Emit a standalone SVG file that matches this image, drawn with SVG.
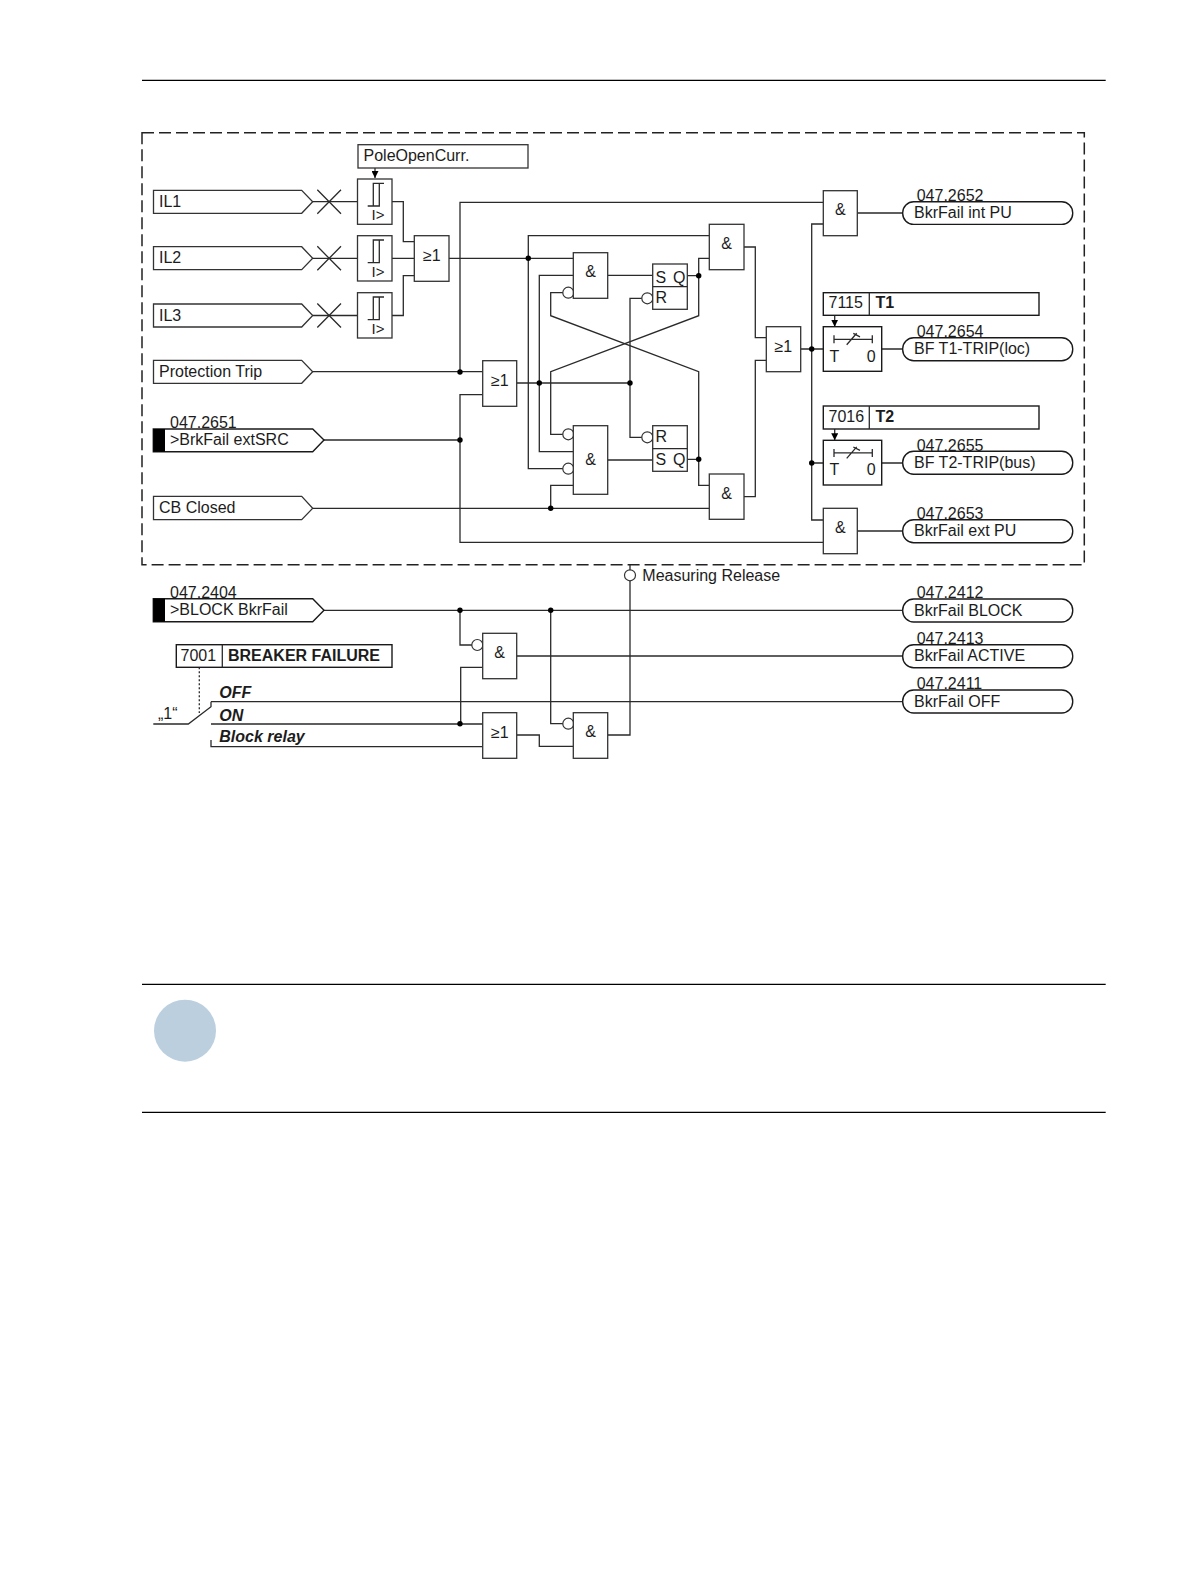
<svg xmlns="http://www.w3.org/2000/svg" width="1191" height="1587" viewBox="0 0 1191 1587">
<defs>
<style>
text{font-family:"Liberation Sans",Arial,sans-serif;font-size:16px;fill:#1c1c1c}
.b{font-weight:bold}
.bi{font-weight:bold;font-style:italic}
.m{text-anchor:middle}
.box{fill:#fff;stroke:#333;stroke-width:1.3}
.dk{fill:#fff;stroke:#1a1a1a;stroke-width:1.4}
.w{fill:none;stroke:#2a2a2a;stroke-width:1.3}
.bub{fill:#fff;stroke:#333;stroke-width:1.2}
.dot{fill:#000}
.rule{stroke:#000;stroke-width:1.3}
.gl{font-size:15px}
</style>
<marker id="arr" markerUnits="userSpaceOnUse" markerWidth="8" markerHeight="7" refX="7" refY="3.5" orient="auto"><path d="M0 0L7 3.5L0 7Z" fill="#000"/></marker>
<g id="hys"><path class="w" d="M10.200 27H21.800V4.300M15.800 27V4.300H26.500"/></g>
<g id="tsym"><path class="w" d="M10.700 8.500V16.500M49 8.500V16.500M10.700 12.500H49M23.400 18L33.400 6.500M30 6.600L36.700 10"/></g>
</defs>
<rect width="1191" height="1587" fill="#fff"/>
<g id="page">
<line class="rule" x1="142" y1="80.300" x2="1105.700" y2="80.300"/>
<line class="rule" x1="142" y1="984.300" x2="1105.700" y2="984.300"/>
<line class="rule" x1="142" y1="1112.300" x2="1105.700" y2="1112.300"/>
<circle cx="185" cy="1030.700" r="31" fill="#bccfdf"/>
</g>
<rect id="frame" x="142" y="132.700" width="942.300" height="432" fill="none" stroke="#222" stroke-width="1.5" stroke-dasharray="12 5"/>
<g id="connectors" class="w">
<path d="M312.700 201.700H357.500M312.700 258.300H357.500M312.700 315.500H357.500"/>
<path d="M317.300 189.700L341 213.700M317.300 213.700L341 189.700M317.300 246.300L341 270.300M317.300 270.300L341 246.300M317.300 303.500L341 327.500M317.300 327.500L341 303.500"/>
<path d="M392 201.700H403.300V241.700H414.300M392 258.300H414.300M392 315.500H403.300V275.700H414.300"/>
<path d="M449 258.300H573.300"/>
<path d="M823.300 202.300H460V372M312.700 371.700H482.700"/>
<path d="M324 440H460M482.700 394.700H460V542.300H823.300"/>
<path d="M312.700 508.300H709.300"/>
<path d="M516.700 383H630"/>
<path d="M709.300 235.700H528.300V468.700H563"/>
<path d="M573.300 275.300H539.300V451.700H573.300"/>
<path d="M563 292.700H550.700V315.700L698.700 371.700V485.300H709.300"/>
<path d="M709.300 258.300H698.700V315.700L550.700 371.700V434.300H563"/>
<path d="M607.700 275.300H652.700M687.300 275.700H698.700M607.700 460H652.700M687.300 459.300H698.700"/>
<path d="M642 298.300H630V437.300H642"/>
<path d="M573.300 485.300H550.700V508.300"/>
<path d="M744 247H755.300V337.700H766.300M744 496.700H755.300V360.300H766.300"/>
<path d="M800.700 349H823.300M823.300 224H811.700V520H823.300M811.700 463H823.300"/>
<path d="M857.300 213H902.700M881.700 349H902.700M881.700 463H902.700M857.300 531H902.700"/>
<path d="M375 168V178" marker-end="url(#arr)"/>
<path d="M834.700 315.300V326.700" marker-end="url(#arr)"/>
<path d="M834.700 429V440.300" marker-end="url(#arr)"/>
<path d="M324 610.300H902.700"/>
<path d="M460 610.300V645H472M482.700 667.300H460.700V724"/>
<path d="M516.700 656H902.700"/>
<path d="M211 701.700H902.700M153.300 724H188.300L211 706.700V701.700M211 724H482.700M211 740V746.700H482.700"/>
<path d="M199.300 667.300V713" stroke-dasharray="2 2"/>
<path d="M516.700 735H539.300V746.300H573.300"/>
<path d="M550.700 610.300V723.700H563"/>
<path d="M607.700 735H630V581M630 570V565"/>
</g>
<g id="junctions" class="dot">
<circle cx="460" cy="372" r="2.700"/><circle cx="460" cy="440" r="2.700"/>
<circle cx="528.300" cy="258.300" r="2.700"/><circle cx="539.300" cy="383" r="2.700"/><circle cx="630" cy="383" r="2.700"/>
<circle cx="698.700" cy="275.700" r="2.700"/><circle cx="698.700" cy="459.300" r="2.700"/><circle cx="550.700" cy="508.300" r="2.700"/>
<circle cx="811.700" cy="349" r="2.700"/><circle cx="811.700" cy="463" r="2.700"/>
<circle cx="460" cy="610.300" r="2.700"/><circle cx="550.700" cy="610.300" r="2.700"/><circle cx="460" cy="723.800" r="2.700"/>
</g>
<g id="bubbles" class="bub">
<circle cx="568.300" cy="292.700" r="5.500"/><circle cx="568.300" cy="434.300" r="5.500"/><circle cx="568.300" cy="468.700" r="5.500"/>
<circle cx="647.300" cy="298.300" r="5.500"/><circle cx="647.300" cy="437.300" r="5.500"/>
<circle cx="477.300" cy="645" r="5.500"/><circle cx="568.300" cy="723.700" r="5.500"/><circle cx="630" cy="575.300" r="5.500"/>
</g>
<g id="in-il1"><path class="box" d="M153.500 190.300H301.700L312.700 201.700L301.700 213.300H153.500Z"/><text x="159" y="206.700">IL1</text></g>
<g id="in-il2"><path class="box" d="M153.500 246.700H301.700L312.700 258.300L301.700 269.700H153.500Z"/><text x="159" y="263.300">IL2</text></g>
<g id="in-il3"><path class="box" d="M153.500 304H301.700L312.700 315.500L301.700 327H153.500Z"/><text x="159" y="320.500">IL3</text></g>
<g id="in-prot"><path class="box" d="M153.500 360.300H301.700L312.700 371.700L301.700 383.300H153.500Z"/><text x="159" y="376.700">Protection Trip</text></g>
<g id="in-cb"><path class="box" d="M153.500 496.300H301.700L312.700 508.300L301.700 519.700H153.500Z"/><text x="159" y="512.700">CB Closed</text></g>
<g id="in-ext">
<text x="170" y="428.300">047.2651</text>
<path class="dk" d="M153.300 429H312.700L324 440L312.700 451.700H153.300Z"/>
<rect x="153.300" y="429" width="11.700" height="22.700" fill="#000"/>
<text x="170" y="445">&gt;BrkFail extSRC</text></g>
<g id="in-block">
<text x="170" y="598">047.2404</text>
<path class="dk" d="M153.300 598.700H312.700L324 610.300L312.700 621.700H153.300Z"/>
<rect x="153.300" y="598.700" width="11.700" height="23" fill="#000"/>
<text x="170" y="615">&gt;BLOCK BkrFail</text></g>
<g id="pole"><rect class="box" x="358" y="144.700" width="170" height="23.300"/><text x="363.500" y="161">PoleOpenCurr.</text></g>
<g id="det1"><rect class="box" x="357.500" y="179" width="34.500" height="45.300"/><use href="#hys" x="357.500" y="179"/><text class="gl" x="371.500" y="220">I&gt;</text></g>
<g id="det2"><rect class="box" x="357.500" y="235.700" width="34.500" height="45.300"/><use href="#hys" x="357.500" y="235.700"/><text class="gl" x="371.500" y="276.700">I&gt;</text></g>
<g id="det3"><rect class="box" x="357.500" y="292.700" width="34.500" height="45.300"/><use href="#hys" x="357.500" y="292.700"/><text class="gl" x="371.500" y="333.700">I&gt;</text></g>
<g id="or1"><rect class="box" x="414.300" y="235.700" width="34.700" height="45.600"/><text x="423" y="261">≥1</text></g>
<g id="or2"><rect class="box" x="482.700" y="360.700" width="34" height="45.600"/><text x="491" y="386">≥1</text></g>
<g id="or3"><rect class="box" x="766.300" y="326.700" width="34.400" height="45"/><text x="774.500" y="352">≥1</text></g>
<g id="or4"><rect class="box" x="482.700" y="712.700" width="34" height="45.600"/><text x="491" y="738">≥1</text></g>
<g id="and-a"><rect class="box" x="573.300" y="252.700" width="34.400" height="45.600"/><text class="m" x="590.500" y="277.300">&amp;</text></g>
<g id="and-b"><rect class="box" x="573.300" y="425.700" width="34.400" height="68.600"/><text class="m" x="590.500" y="465">&amp;</text></g>
<g id="and-c"><rect class="box" x="709.300" y="224.300" width="34.700" height="45.400"/><text class="m" x="726.500" y="249">&amp;</text></g>
<g id="and-d"><rect class="box" x="709.300" y="474" width="34.700" height="45.300"/><text class="m" x="726.500" y="499">&amp;</text></g>
<g id="and-e"><rect class="box" x="823.300" y="190.700" width="34" height="45"/><text class="m" x="840.300" y="215">&amp;</text></g>
<g id="and-f"><rect class="box" x="823.300" y="508.300" width="34" height="45.400"/><text class="m" x="840.300" y="533.300">&amp;</text></g>
<g id="and-g"><rect class="box" x="482.700" y="633.300" width="34" height="45.400"/><text class="m" x="499.700" y="658">&amp;</text></g>
<g id="and-h"><rect class="box" x="573.300" y="712.700" width="34.400" height="45.600"/><text class="m" x="590.500" y="737">&amp;</text></g>
<g id="ff1"><rect class="box" x="652.700" y="264" width="34.600" height="45.300"/><line class="w" x1="652.700" y1="286.700" x2="687.300" y2="286.700"/><text x="655.500" y="283">S</text><text x="673" y="283">Q</text><text x="655.500" y="303.300">R</text></g>
<g id="ff2"><rect class="box" x="652.700" y="425.700" width="34.600" height="45.600"/><line class="w" x1="652.700" y1="448.700" x2="687.300" y2="448.700"/><text x="655.500" y="441.700">R</text><text x="655.500" y="465">S</text><text x="673" y="465">Q</text></g>
<g id="set-t1"><rect class="dk" x="823.300" y="292.700" width="215.700" height="22.600"/><line class="w" x1="869.300" y1="292.700" x2="869.300" y2="315.300"/><text x="828.500" y="308.300">7115</text><text class="b" x="875.500" y="308.300">T1</text></g>
<g id="set-t2"><rect class="dk" x="823.300" y="406" width="215.700" height="23"/><line class="w" x1="869.300" y1="406" x2="869.300" y2="429"/><text x="828.500" y="421.700">7016</text><text class="b" x="875.500" y="421.700">T2</text></g>
<g id="timer1"><rect class="dk" x="823.300" y="326.700" width="58.400" height="44.600"/><use href="#tsym" x="823.300" y="326.800"/><text x="829.500" y="361.700">T</text><text x="866.700" y="361.700">0</text></g>
<g id="timer2"><rect class="dk" x="823.300" y="440.300" width="58.400" height="44.700"/><use href="#tsym" x="823.300" y="440.400"/><text x="829.500" y="475.300">T</text><text x="866.700" y="475.300">0</text></g>
<g id="out-int"><text x="916.700" y="200.700">047.2652</text><rect class="dk" x="902.700" y="201.700" width="170" height="22.700" rx="11"/><text x="914" y="218.300">BkrFail int PU</text></g>
<g id="out-t1"><text x="916.700" y="337">047.2654</text><rect class="dk" x="902.700" y="337.700" width="170" height="23" rx="11"/><text x="914" y="354.300">BF T1-TRIP(loc)</text></g>
<g id="out-t2"><text x="916.700" y="450.500">047.2655</text><rect class="dk" x="902.700" y="451.300" width="170" height="23" rx="11"/><text x="914" y="468">BF T2-TRIP(bus)</text></g>
<g id="out-ext"><text x="916.700" y="519">047.2653</text><rect class="dk" x="902.700" y="519.700" width="170" height="23" rx="11"/><text x="914" y="536.300">BkrFail ext PU</text></g>
<g id="out-block"><text x="916.700" y="598.300">047.2412</text><rect class="dk" x="902.700" y="599" width="170" height="23" rx="11"/><text x="914" y="615.700">BkrFail BLOCK</text></g>
<g id="out-active"><text x="916.700" y="644">047.2413</text><rect class="dk" x="902.700" y="644.700" width="170" height="23" rx="11"/><text x="914" y="661">BkrFail ACTIVE</text></g>
<g id="out-off"><text x="916.700" y="689.300">047.2411</text><rect class="dk" x="902.700" y="690" width="170" height="23" rx="11"/><text x="914" y="706.700">BkrFail OFF</text></g>
<g id="mode"><rect class="dk" x="176.300" y="644.700" width="215.700" height="22.600"/><line class="w" x1="222.300" y1="644.700" x2="222.300" y2="667.300"/><text x="180.500" y="660.700">7001</text><text class="b" x="228" y="660.700">BREAKER FAILURE</text></g>
<g id="switch-labels"><text x="158" y="719">„1“</text><text class="bi" x="219.300" y="698">OFF</text><text class="bi" x="219.300" y="721">ON</text><text class="bi" x="219.300" y="742">Block relay</text></g>
<text id="release" x="642.300" y="580.700">Measuring Release</text>
</svg>
